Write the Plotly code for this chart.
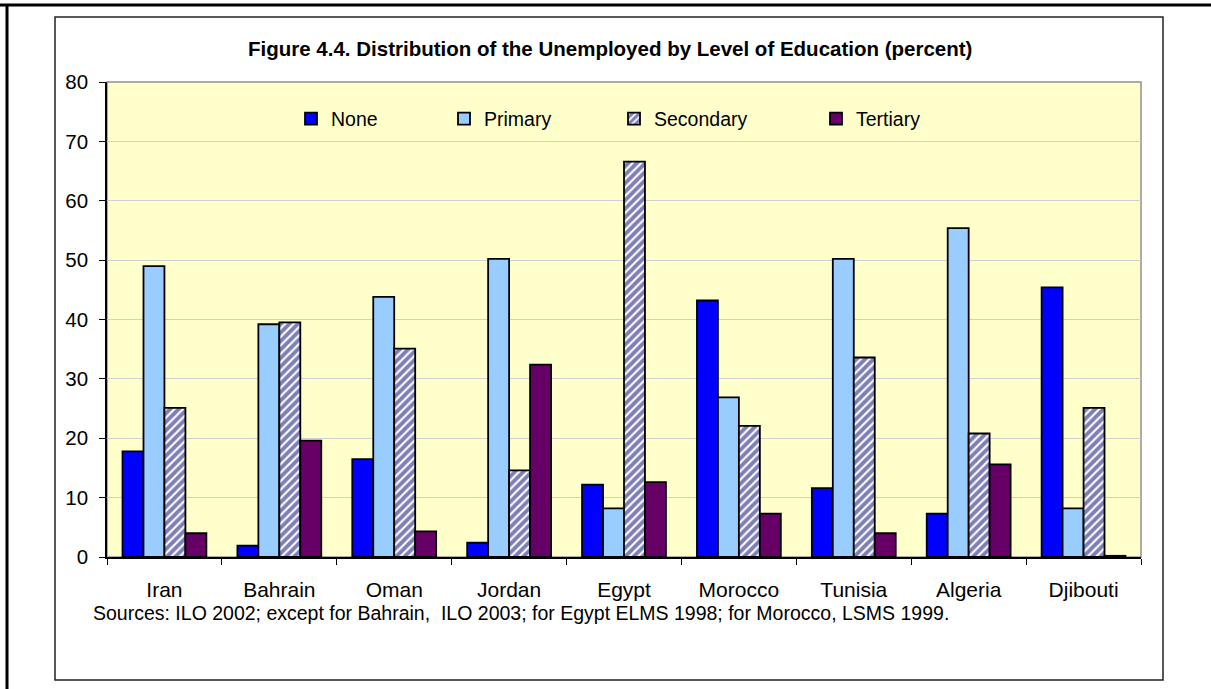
import plotly.graph_objects as go

countries = ["Iran", "Bahrain", "Oman", "Jordan", "Egypt", "Morocco", "Tunisia", "Algeria", "Djibouti"]
none_vals = [17.8, 1.9, 16.5, 2.4, 12.2, 43.2, 11.6, 7.3, 45.4]
primary_vals = [49.0, 39.2, 43.8, 50.2, 8.2, 26.9, 50.2, 55.4, 8.2]
secondary_vals = [25.1, 39.5, 35.1, 14.6, 66.6, 22.1, 33.6, 20.8, 25.1]
tertiary_vals = [4.0, 19.6, 4.3, 32.4, 12.6, 7.3, 4.0, 15.6, 0.2]

title_text = "Figure 4.4. Distribution of the Unemployed by Level of Education (percent)"
source_text = "Sources: ILO 2002; except for Bahrain,  ILO 2003; for Egypt ELMS 1998; for Morocco, LSMS 1999."

W, H = 1211, 689
L, R, T, B = 107, 1141, 82, 557  # plot area in pixels
pw, ph = R - L, B - T


def px(x):
    return (x - L) / pw


def py(y):
    return (B - y) / ph


FONT = "Liberation Sans, Arial, sans-serif"
line = dict(color="black", width=1.8)

fig = go.Figure()
fig.add_trace(go.Bar(name="None", x=countries, y=none_vals,
                     marker=dict(color="#0000FF", line=line), legend="legend"))
fig.add_trace(go.Bar(name="Primary", x=countries, y=primary_vals,
                     marker=dict(color="#99CCFF", line=line), legend="legend2"))
fig.add_trace(go.Bar(name="Secondary", x=countries, y=secondary_vals,
                     marker=dict(color="white", line=line,
                                 pattern=dict(shape="/", fgcolor="#000070", bgcolor="white",
                                              size=6, solidity=0.65)),
                     legend="legend3"))
fig.add_trace(go.Bar(name="Tertiary", x=countries, y=tertiary_vals,
                     marker=dict(color="#660066", line=line), legend="legend4"))

leg_common = dict(orientation="h", xanchor="left", yanchor="middle",
                  bgcolor="rgba(0,0,0,0)", borderwidth=0,
                  font=dict(family=FONT, size=19.5, color="black"),
                  itemwidth=30)
legend_px = [291, 444, 614, 816]
for i, key in enumerate(["legend", "legend2", "legend3", "legend4"]):
    fig.update_layout(**{key: dict(x=px(legend_px[i]), y=py(119), **leg_common)})

shapes = [
    # outer frame (top and left edges)
    dict(type="line", xref="paper", yref="paper", x0=px(0), x1=px(W), y0=py(5), y1=py(5),
         line=dict(color="black", width=3)),
    dict(type="line", xref="paper", yref="paper", x0=px(7), x1=px(7), y0=py(5), y1=py(H),
         line=dict(color="black", width=3)),
    # inner chart border
    dict(type="rect", xref="paper", yref="paper", x0=px(55), x1=px(1163), y0=py(17), y1=py(680),
         line=dict(color="#222222", width=1.5), layer="below"),
    # plot area border
    dict(type="rect", xref="paper", yref="paper", x0=0, x1=1, y0=0, y1=1,
         line=dict(color="#909090", width=1.5), layer="below"),
]

annotations = [
    dict(text="<b>" + title_text + "</b>", xref="paper", yref="paper",
         x=px(610), y=py(48), xanchor="center", yanchor="middle", showarrow=False,
         font=dict(family=FONT, size=20.5, color="black")),
    dict(text=source_text, xref="paper", yref="paper",
         x=px(91), y=py(613), xanchor="left", yanchor="middle", showarrow=False,
         font=dict(family=FONT, size=19.5, color="black")),
]

fig.update_layout(
    width=W, height=H,
    margin=dict(l=L, r=W - R, t=T, b=H - B, autoexpand=False),
    paper_bgcolor="white",
    plot_bgcolor="#FFFFCC",
    barmode="group",
    bargap=0.27,
    bargroupgap=0.0,
    showlegend=True,
    shapes=shapes,
    annotations=annotations,
    font=dict(family=FONT, color="black"),
    xaxis=dict(
        type="category", tickson="boundaries", ticks="outside", ticklen=6,
        tickcolor="black", tickwidth=1, showline=True, linecolor="black", linewidth=1.5,
        showgrid=False, tickfont=dict(family=FONT, size=21, color="black"),
        ticklabelstandoff=13,
    ),
    yaxis=dict(
        range=[0, 80], dtick=10, ticks="outside", ticklen=6, tickcolor="black",
        showline=True, linecolor="black", linewidth=1.5,
        showgrid=True, gridcolor="#D0D0D0", gridwidth=1,
        tickfont=dict(family=FONT, size=20.5, color="black"),
        ticklabelstandoff=7, zeroline=False,
    ),
)

fig.write_html("out.html", config={"displayModeBar": False},
               post_script="document.body.style.margin='0';")
